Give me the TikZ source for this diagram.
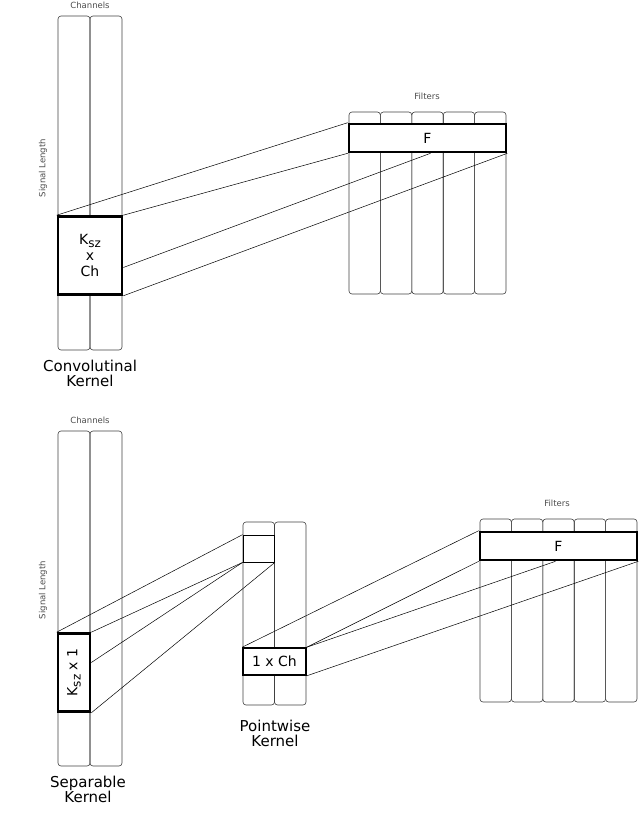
\documentclass[tikz,border=0pt]{standalone}
\usepackage{fontspec}
\setmainfont{DejaVu Sans}
\begin{document}
\begin{tikzpicture}[x=1pt,y=-1pt,
  col/.style={draw=black!75,line width=0.6pt,rounded corners=3pt},
  kern/.style={draw=black,line width=2.6pt,fill=white},
  thin/.style={draw=black,line width=0.5pt},
  lbl/.style={font=\fontsize{8.5}{9}\selectfont,text=black!70},
  ktxt/.style={font=\fontsize{14}{16}\selectfont},
  big/.style={font=\fontsize{15}{15}\selectfont,align=center,inner sep=0pt}]
\useasboundingbox (0,0) rectangle (640,824);
% ---- top ----
\foreach \x in {58,90} \draw[col] (\x,16) rectangle ++(32,334);
\foreach \i in {0,...,4} \draw[col] (349+\i*31.4,112) rectangle ++(31.4,182);
\node[lbl] (ch1) at (90,5) {Channels};
\node[lbl,rotate=90] (sl1) at (43,168) {Signal Length};
\node[lbl] (fi1) at (427,96) {Filters};
\node[kern,ktxt,minimum width=64pt,minimum height=78pt,inner sep=0pt,align=center] (k1) at (90,255.5) {K\raisebox{-0.4ex}{\fontsize{12}{12}\selectfont sz}\\x\\Ch};
\node[kern,ktxt,minimum width=157pt,minimum height=28pt,inner sep=0pt] (f1) at (427.5,138) {F};
\coordinate (k1m) at ([yshift=-12]k1.east);
\coordinate (f1m) at ([xshift=3]f1.south);
\draw[thin] (k1.north west) -- (f1.north west);
\draw[thin] (k1.north east) -- (f1.south west);
\draw[thin] (k1m) -- (f1m);
\draw[thin] (k1.south east) -- (f1.south east);
\node[big] (t1) at (90,373) {Convolutinal\\Kernel};
% ---- bottom ----
\foreach \x in {58,90} \draw[col] (\x,431) rectangle ++(32,335);
\foreach \x in {243,274.5} \draw[col] (\x,522) rectangle ++(31.5,183);
\foreach \i in {0,...,4} \draw[col] (480+\i*31.4,519) rectangle ++(31.4,183);
\node[lbl] (ch2) at (90,420) {Channels};
\node[lbl,rotate=90] (sl2) at (43,590) {Signal Length};
\node[lbl] (fi2) at (557,503) {Filters};
\node[kern,ktxt,minimum width=32pt,minimum height=78pt,inner sep=0pt] (k2) at (74,672.5) {\rotatebox{90}{K\raisebox{-0.4ex}{\fontsize{12}{12}\selectfont sz} x 1}};
\node[draw,line width=0.8pt,minimum width=31.5pt,minimum height=27pt,inner sep=0pt] (p1) at (258.75,548.5) {};
\node[kern,ktxt,line width=1.6pt,minimum width=63pt,minimum height=27pt,inner sep=0pt] (p2) at (274.5,661.5) {1 x Ch};
\node[kern,ktxt,minimum width=157pt,minimum height=28pt,inner sep=0pt] (f2) at (558.5,546) {F};
\coordinate (k2m) at ([yshift=10]k2.east);
\coordinate (f2m) at ([xshift=-3]f2.south);
\draw[thin] (k2.north west) -- (p1.north west);
\draw[thin] (k2.north east) -- (p1.south west);
\draw[thin] (k2m) -- (p1.south west);
\draw[thin] (k2.south east) -- (p1.south east);
\draw[thin] (p2.north west) -- (f2.north west);
\draw[thin] (p2.north east) -- (f2.south west);
\draw[thin] (p2.north east) -- (f2m);
\draw[thin] (p2.south east) -- (f2.south east);
\node[big] (t2) at (275,733) {Pointwise\\Kernel};
\node[big] (t3) at (88,789) {Separable\\Kernel};
\end{tikzpicture}
\end{document}
